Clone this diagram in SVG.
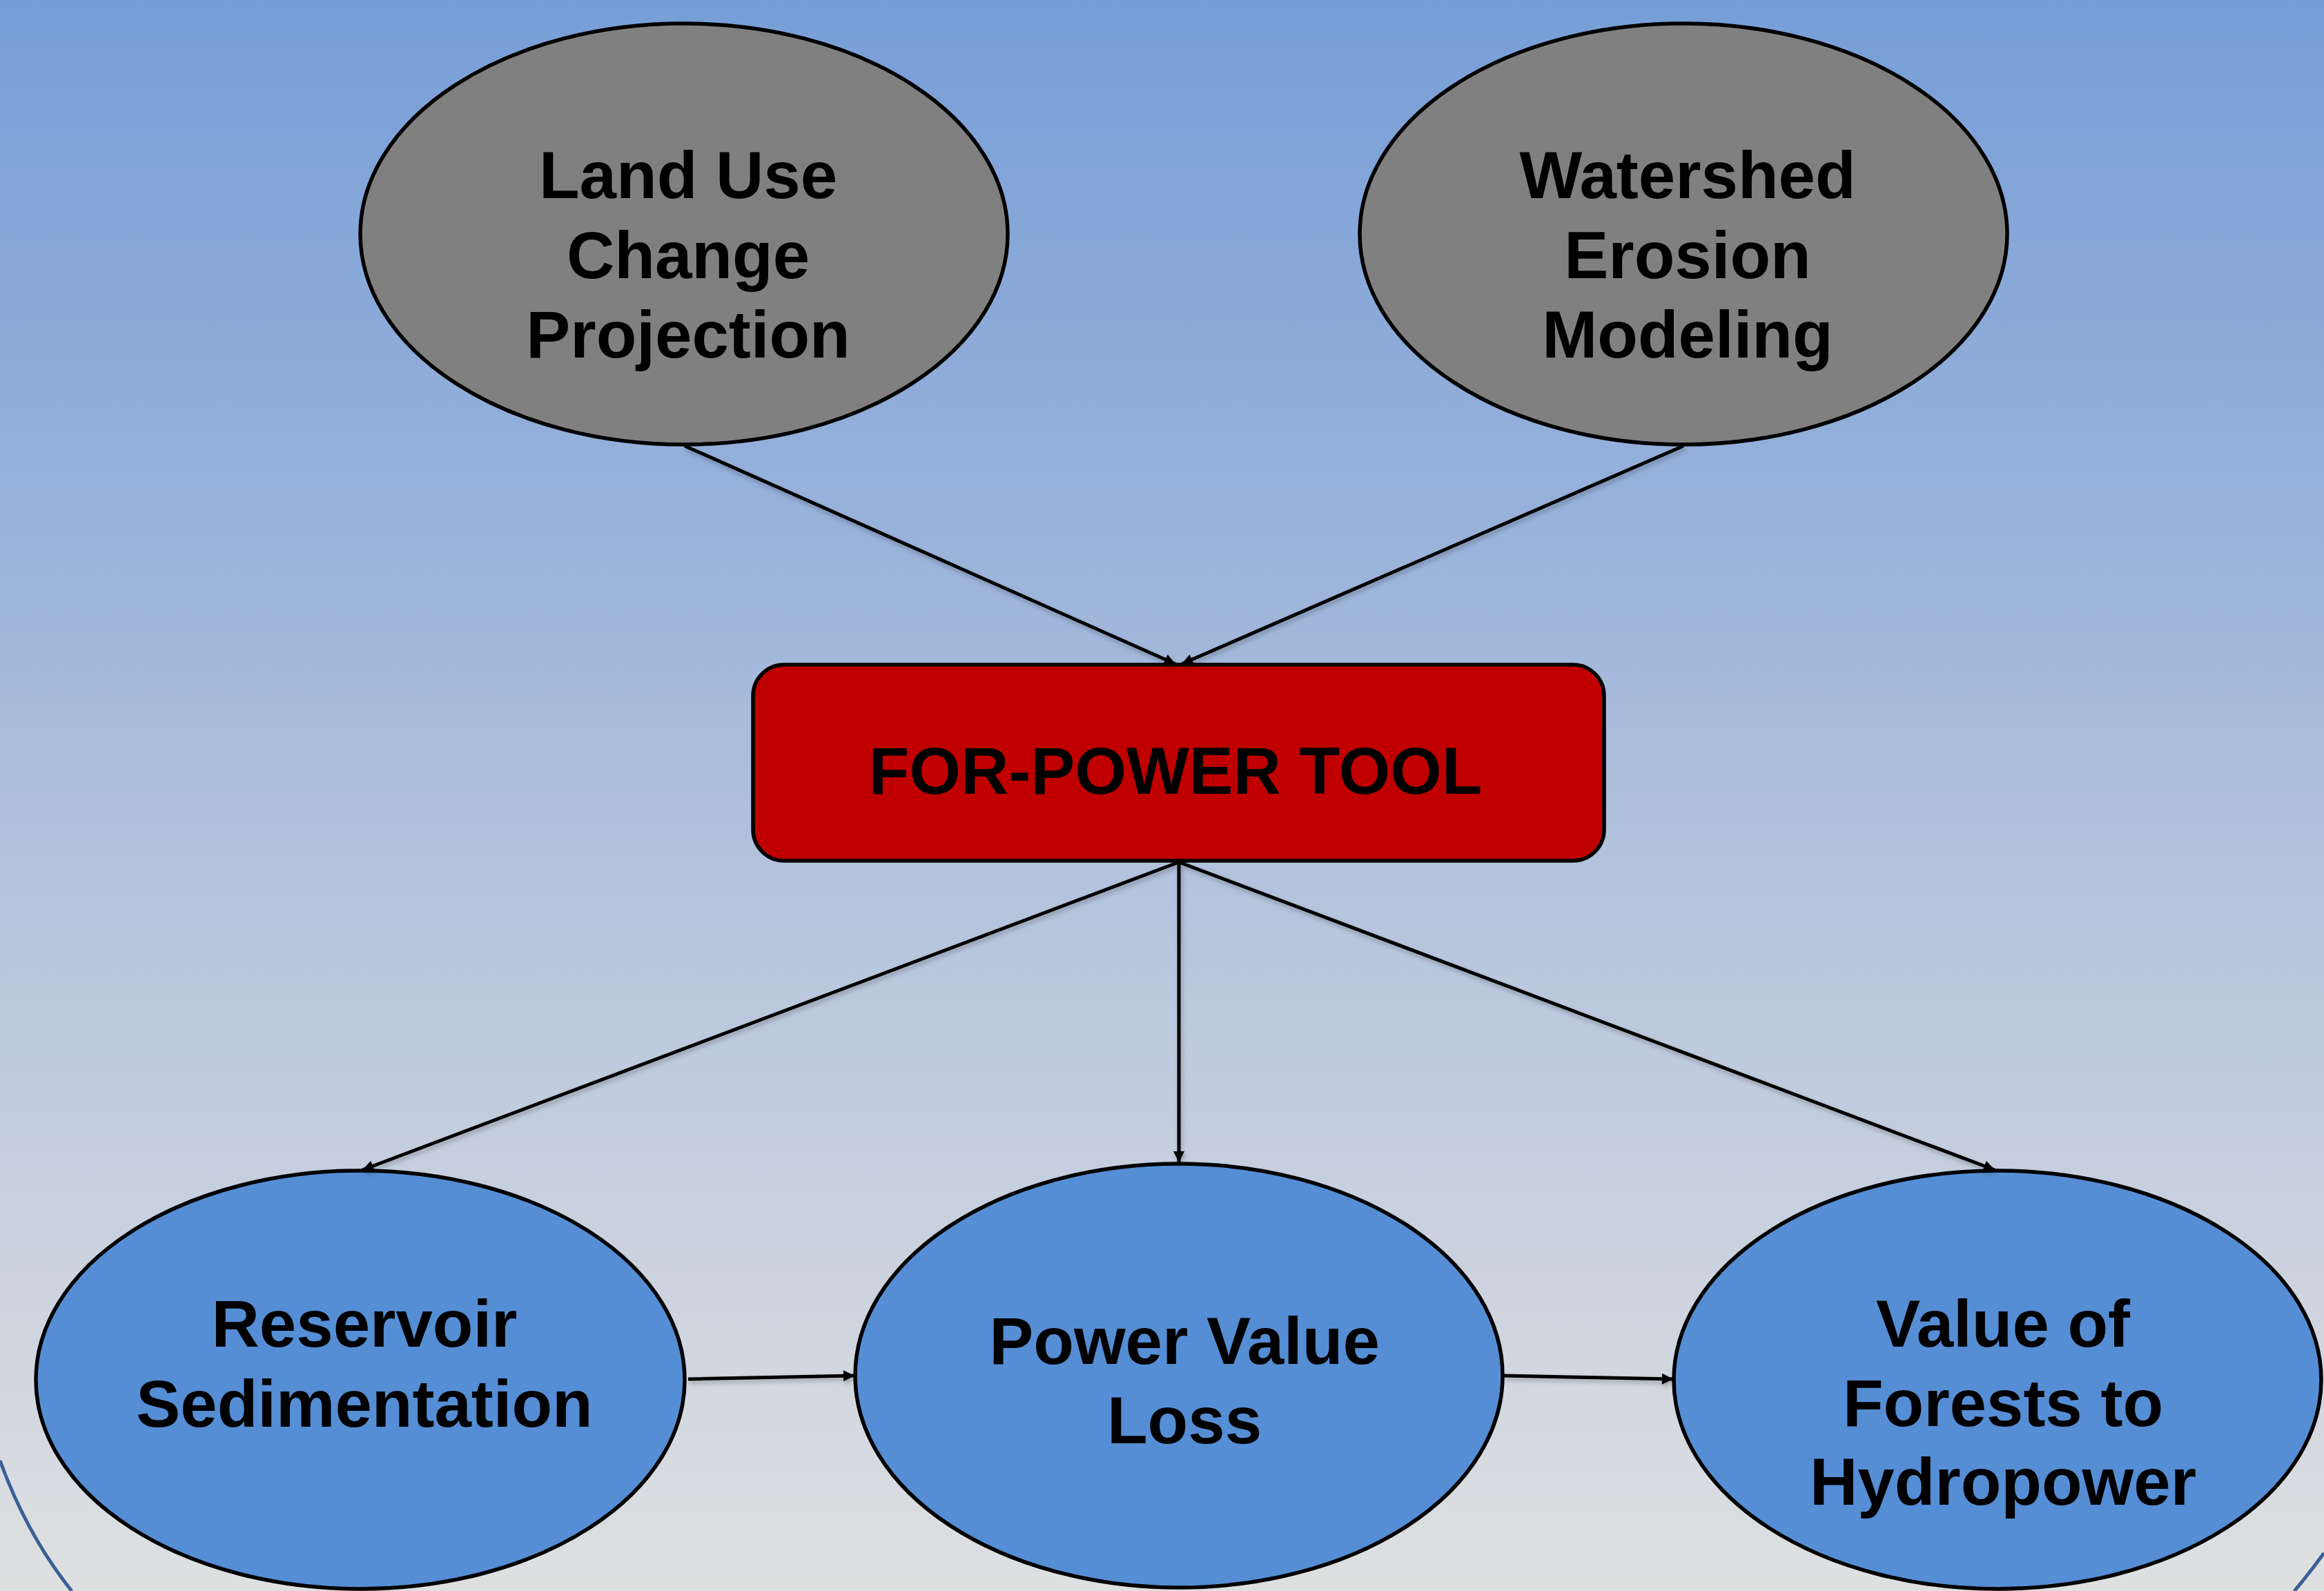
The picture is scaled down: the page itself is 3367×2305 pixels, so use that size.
<svg xmlns="http://www.w3.org/2000/svg" width="3367" height="2305" viewBox="0 0 3367 2305">
  <defs>
    <linearGradient id="bg" x1="0" y1="0" x2="0" y2="1">
      <stop offset="0" stop-color="#779ed7"/>
      <stop offset="0.3" stop-color="#95b0da"/>
      <stop offset="0.55" stop-color="#b3c3dd"/>
      <stop offset="0.8" stop-color="#ccd3df"/>
      <stop offset="1" stop-color="#dee0e0"/>
    </linearGradient>
    <marker id="arrow" viewBox="0 0 10 10" refX="10" refY="5" markerWidth="3.4" markerHeight="3.2" markerUnits="strokeWidth" orient="auto">
      <path d="M0,0 L10,5 L0,10 z" fill="#000"/>
    </marker>
    <filter id="shadow" x="-10%" y="-10%" width="120%" height="120%">
      <feDropShadow dx="2" dy="4" stdDeviation="3" flood-color="#000" flood-opacity="0.25"/>
    </filter>
  </defs>
  <style>
    .grey { fill: #808080; stroke: #000; stroke-width: 5.5; }
    .blue { fill: #558ed5; stroke: #000; stroke-width: 5.5; }
    .tool { fill: #c00000; stroke: #000; stroke-width: 5.5; }
    .label { font-family: "Liberation Sans", Arial, sans-serif; font-weight: bold; font-size: 96px; fill: #000; text-anchor: middle; }
    .edge { stroke: #000; stroke-width: 5; fill: none; marker-end: url(#arrow); }
    .deco { stroke: #3b6096; stroke-width: 5; fill: none; }
  </style>

  <!-- backdrop -->
  <rect x="0" y="0" width="3367" height="2305" fill="url(#bg)"/>
  <path class="deco" d="M0,2116 C25,2185 60,2250 104,2305"/>
  <path class="deco" d="M3367,2250 Q3346,2279 3324,2305"/>

  <!-- input models -->
  <g id="land-use">
    <ellipse class="grey" cx="991" cy="339" rx="469" ry="305"/>
    <text class="label" x="997" y="287">Land Use</text>
    <text class="label" x="997" y="403">Change</text>
    <text class="label" x="997" y="518">Projection</text>
  </g>
  <g id="watershed">
    <ellipse class="grey" cx="2439" cy="339" rx="469" ry="305"/>
    <text class="label" x="2445" y="287">Watershed</text>
    <text class="label" x="2445" y="403">Erosion</text>
    <text class="label" x="2445" y="518">Modeling</text>
  </g>

  <!-- central tool -->
  <g id="for-power">
    <rect class="tool" x="1091" y="963" width="1233" height="284" rx="45" ry="45"/>
    <text class="label" x="1703" y="1150">FOR-POWER TOOL</text>
  </g>

  <!-- outputs -->
  <g id="reservoir">
    <ellipse class="blue" cx="522" cy="1999" rx="470" ry="303"/>
    <text class="label" x="528" y="1951">Reservoir</text>
    <text class="label" x="528" y="2067">Sedimentation</text>
  </g>
  <g id="power-loss">
    <ellipse class="blue" cx="1708" cy="1993" rx="469" ry="307"/>
    <text class="label" x="1716" y="1976">Power Value</text>
    <text class="label" x="1716" y="2091">Loss</text>
  </g>
  <g id="forest-value">
    <ellipse class="blue" cx="2894" cy="1999" rx="469" ry="303"/>
    <text class="label" x="2902" y="1951">Value of</text>
    <text class="label" x="2902" y="2066">Forests to</text>
    <text class="label" x="2902" y="2180">Hydropower</text>
  </g>

  <!-- connectors -->
  <g id="connectors" filter="url(#shadow)">
    <line class="edge" x1="992" y1="646" x2="1703" y2="962"/>
    <line class="edge" x1="2439" y1="646" x2="1712" y2="962"/>
    <line class="edge" x1="1708" y1="1249" x2="525" y2="1695"/>
    <line class="edge" x1="1708" y1="1249" x2="1708" y2="1684"/>
    <line class="edge" x1="1708" y1="1249" x2="2890" y2="1695"/>
    <line class="edge" x1="997" y1="1998" x2="1238" y2="1993"/>
    <line class="edge" x1="2178" y1="1993" x2="2424" y2="1998"/>
  </g>
</svg>
